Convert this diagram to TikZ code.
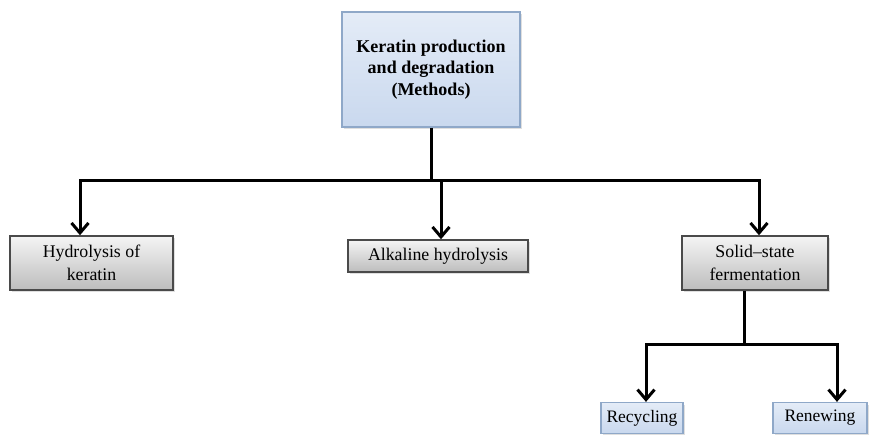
\documentclass[tikz,border=0pt]{standalone}
\usepackage{fontspec}
\setmainfont{Liberation Serif}
\usepackage{xcolor}
\usetikzlibrary{calc,positioning,arrows.meta,shadows}

\definecolor{bluetop}{HTML}{E4ECF7}
\definecolor{bluebot}{HTML}{C9D8EE}
\definecolor{blueedge}{HTML}{8FA8C8}
\definecolor{graytop}{HTML}{F4F4F4}
\definecolor{graybot}{HTML}{BDBDBD}
\definecolor{grayedge}{HTML}{4A4A4A}

\begin{document}
\begin{tikzpicture}[x=1pt, y=-1pt,
    bluebox/.style={rectangle, draw=blueedge, line width=1.2pt, top color=bluetop, bottom color=bluebot,
      drop shadow={shadow xshift=2pt, shadow yshift=-2pt, opacity=0.25}, inner sep=0pt, align=center,
      font=\fontsize{17.5}{22}\selectfont},
    graybox/.style={rectangle, draw=grayedge, line width=1.5pt, top color=graytop, bottom color=graybot,
      drop shadow={shadow xshift=2pt, shadow yshift=-2pt, opacity=0.25}, inner sep=0pt, align=center,
      font=\fontsize{17.8}{23}\selectfont},
    link/.style={line width=3pt, black},
    arr/.style={link, -{Straight Barb[length=10pt, width=17pt, line width=3pt]}}]

    \useasboundingbox (0,0) rectangle (869,434);

    % Nodes
    \node[bluebox, minimum width=178, minimum height=115, font=\fontsize{18}{21.7}\selectfont\bfseries] (top) at (431,69.5) {Keratin production\\and degradation\\(Methods)};
    \node[graybox, minimum width=163, minimum height=54] (hyd) at (91.5,263) {Hydrolysis of\\keratin};
    \node[graybox, minimum width=180, minimum height=32] (alk) at (438,256) {Alkaline hydrolysis};
    \node[graybox, minimum width=146, minimum height=54] (sol) at (755,263) {Solid--state\\fermentation};
    \node[bluebox, minimum width=82, minimum height=31] (rec) at (642,418) {Recycling};
    \node[bluebox, minimum width=94, minimum height=31] (ren) at (820,418) {Renewing};

    % Connectors
    \coordinate (split) at ($(top.south)+(0,53)$);
    \coordinate (hydin) at ($(hyd.north)+(-11.5,0)$);
    \coordinate (alkin) at ($(alk.north)+(3,0)$);
    \coordinate (solin) at ($(sol.north)+(4,0)$);
    \draw[link] (top.south) -- (split);
    \draw[arr] (split) -| (hydin);
    \draw[arr] (split) -| (solin);
    \draw[arr] (alkin |- split) -- (alkin);

    \coordinate (split2) at ($(sol.south)+(-11,54)$);
    \coordinate (recin) at ($(rec.north)+(4,0)$);
    \coordinate (renin) at ($(ren.north)+(17,0)$);
    \draw[link] (sol.south -| split2) -- (split2);
    \draw[arr] (split2) -| (recin);
    \draw[arr] (split2) -| (renin);

\end{tikzpicture}
\end{document}
